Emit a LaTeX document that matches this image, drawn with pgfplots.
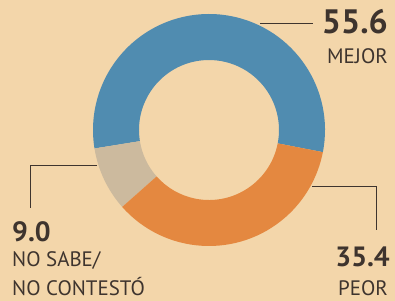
\documentclass[border=0pt]{standalone}
\usepackage{pgfplots}
\pgfplotsset{compat=1.18}
\usepackage{pgfplotstable}
\usepackage{fontspec}
\setmainfont{PT Sans}
\definecolor{paper}{RGB}{243,214,170}
\definecolor{cblue}{RGB}{80,140,176}
\definecolor{corange}{RGB}{228,136,64}
\definecolor{cgray}{RGB}{204,186,158}
\definecolor{ink}{RGB}{62,52,46}
\pgfplotstableread{
value color
55.6 cblue
9.0 cgray
35.4 corange
}\donutdata
\begin{document}
\begin{tikzpicture}
\begin{axis}[x=1bp,y=1bp,xmin=0,xmax=395,ymin=0,ymax=301,hide axis,clip=false,
  at={(0,0)},anchor=south west]
\fill[paper] (axis cs:0,0) rectangle (axis cs:395,301);
\def\cx{209}\def\cy{171}\def\Ro{116}\def\Ri{70}
\xdef\angstart{-11}
\foreach \i in {0,1,2}{
  \pgfplotstablegetelem{\i}{value}\of\donutdata \let\v\pgfplotsretval
  \pgfplotstablegetelem{\i}{color}\of\donutdata \let\c\pgfplotsretval
  \pgfmathsetmacro{\aa}{\angstart}
  \pgfmathsetmacro{\ab}{\angstart+3.6*\v}
  \pgfmathsetmacro{\xa}{\cx+\Ro*cos(\aa)}
  \pgfmathsetmacro{\ya}{\cy+\Ro*sin(\aa)}
  \pgfmathsetmacro{\xb}{\cx+\Ri*cos(\ab)}
  \pgfmathsetmacro{\yb}{\cy+\Ri*sin(\ab)}
  \edef\temp{\noexpand\fill[\c] (axis cs:\xa,\ya) arc[start angle=\aa,end angle=\ab,radius=\Ro bp] -- (axis cs:\xb,\yb) arc[start angle=\ab,end angle=\aa,radius=\Ri bp] -- cycle;}
  \temp
  \xdef\angstart{\ab}
}
\draw[ink, line width=1bp] (axis cs:260,277) -- (axis cs:313,277);
\draw[ink, line width=1bp] (axis cs:97,135) -- (axis cs:30,135) -- (axis cs:30,93);
\draw[ink, line width=1bp] (axis cs:312,114) -- (axis cs:376,114) -- (axis cs:376,71);
\node[anchor=base east, inner sep=0, text=ink, font=\bfseries\fontsize{34}{34}\selectfont] at (axis cs:388,268) {55.6};
\node[anchor=base east, inner sep=0, text=ink, font=\fontsize{21}{21}\selectfont] at (axis cs:388,238) {MEJOR};
\node[anchor=base east, inner sep=0, text=ink, font=\bfseries\fontsize{28}{28}\selectfont] at (axis cs:390,35) {35.4};
\node[anchor=base east, inner sep=0, text=ink, font=\fontsize{21}{21}\selectfont] at (axis cs:388,6) {PEOR};
\node[anchor=base west, inner sep=0, text=ink, font=\bfseries\fontsize{28}{28}\selectfont] at (axis cs:12,60) {9.0};
\node[anchor=base west, inner sep=0, text=ink, font=\fontsize{21}{21}\selectfont] at (axis cs:12,35) {NO SABE/};
\node[anchor=base west, inner sep=0, text=ink, font=\fontsize{21}{21}\selectfont] at (axis cs:12,6) {NO CONTESTÓ};
\end{axis}
\end{tikzpicture}
\end{document}
